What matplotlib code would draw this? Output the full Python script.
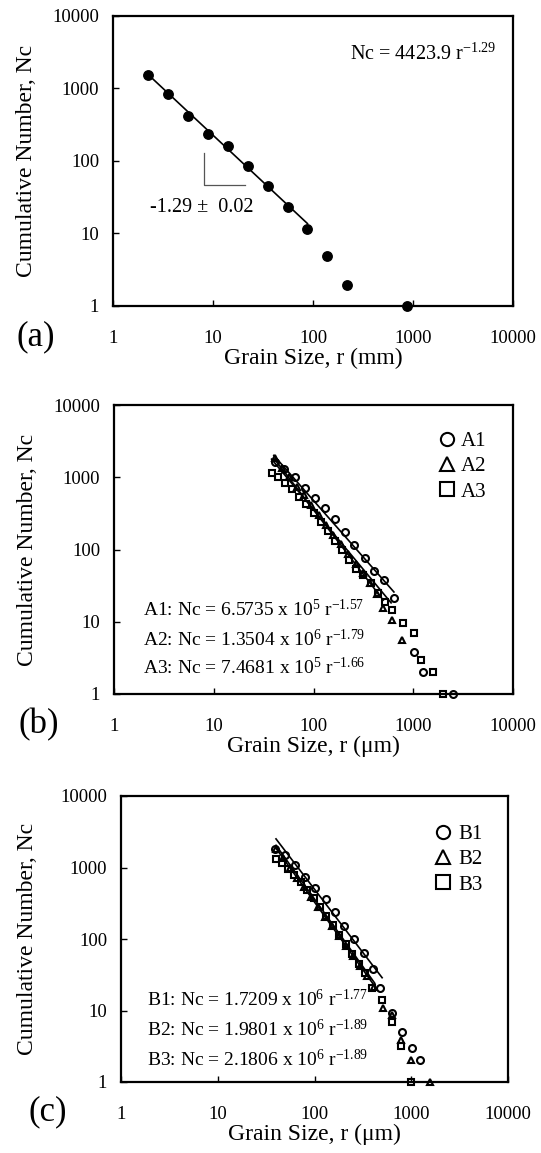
import numpy as np
import matplotlib
matplotlib.use('Agg')
import matplotlib.pyplot as plt

plt.rcParams['font.family'] = ['Liberation Serif', 'DejaVu Serif']
plt.rcParams['mathtext.fontset'] = 'custom'
plt.rcParams['mathtext.rm'] = 'Liberation Serif'
plt.rcParams['mathtext.it'] = 'Liberation Serif:italic'

# panel (a): gravel, mm
a_r = [2.26, 3.57, 5.67, 8.98, 14.2, 22.4, 35.5, 56.2, 87.8, 139, 220, 877]
a_n = [1528, 835, 419, 239, 160, 84, 45, 23.4, 11.7, 4.86, 1.95, 1]
a_fit = (4423.9, -1.29, 2.3, 88)

# panel (b): A samples, um
A1_r = [40.8, 51, 65, 82, 103, 130, 164, 207, 257, 326, 405, 510, 644, 1007, 1262, 2530]
A1_n = [1633, 1291, 1021, 711, 522, 379, 261, 176, 115, 77, 50, 37.5, 21.3, 3.8, 2, 1]
A2_r = [41, 48, 57, 68, 80, 95, 113, 134, 158, 188, 222, 264, 312, 370, 438, 497, 616, 777]
A2_n = [1850, 1330, 1000, 740, 560, 410, 300, 220, 160, 118, 88, 64, 47, 34, 24, 15.5, 10.7, 5.6]
A3_r = [38, 44, 52, 61, 72, 85, 100, 118, 139, 164, 193, 228, 268, 316, 373, 440, 519, 616, 788, 1025, 1203, 1585, 2000]
A3_n = [1140, 1000, 830, 680, 540, 420, 320, 240, 180, 130, 98, 72, 54, 45, 34, 25, 19, 14.7, 9.7, 7, 3, 2, 1]
A_fits = [(6.5735e5, -1.57, 40, 640), (1.3504e6, -1.79, 41, 500), (7.4681e5, -1.66, 38, 600)]
A_eqs = ['A1: Nc = 6.5735 x 10$^{5}$ r$^{-1.57}$',
         'A2: Nc = 1.3504 x 10$^{6}$ r$^{-1.79}$',
         'A3: Nc = 7.4681 x 10$^{5}$ r$^{-1.66}$']

# panel (c): B samples, um
B1_r = [38.6, 49.7, 63.6, 80.7, 102, 130, 161, 201, 253, 321, 401, 475, 628, 796, 1011, 1230]
B1_n = [1841, 1486, 1078, 741, 525, 357, 240, 153, 99, 64.5, 37.7, 20.4, 9.1, 5.06, 3, 2]
B2_r = [40, 47, 56, 66, 78, 92, 109, 129, 152, 180, 213, 252, 298, 352, 416, 509, 630, 780, 990, 1549]
B2_n = [1800, 1350, 990, 720, 530, 385, 280, 205, 150, 110, 80, 58, 42, 30, 21, 11, 8.7, 3.9, 2, 1]
B3_r = [40, 46, 53, 62, 72, 84, 98, 114, 133, 155, 180, 210, 245, 286, 333, 390, 495, 640, 780, 990]
B3_n = [1300, 1150, 960, 780, 620, 480, 370, 280, 210, 155, 115, 85, 62, 45, 33, 20.4, 14, 6.8, 3.2, 1]
B_fits = [(1.7209e6, -1.77, 40, 500), (1.9801e6, -1.89, 40, 420), (2.1806e6, -1.89, 40, 420)]
B_eqs = ['B1: Nc = 1.7209 x 10$^{6}$ r$^{-1.77}$',
         'B2: Nc = 1.9801 x 10$^{6}$ r$^{-1.89}$',
         'B3: Nc = 2.1806 x 10$^{6}$ r$^{-1.89}$']

decades = [1, 10, 100, 1000, 10000]
dec_labels = ['1', '10', '100', '1000', '10000']

fig = plt.figure(figsize=(5.41, 11.53), dpi=100)
W, H = 541, 1153

def add_ax(x0, x1, y0, y1):
    return fig.add_axes([x0 / W, 1 - y1 / H, (x1 - x0) / W, (y1 - y0) / H])

ax1 = add_ax(113, 513, 16, 306)
ax2 = add_ax(114, 513, 405, 694)
ax3 = add_ax(121, 508, 796, 1082)

def style(ax, xlabel, tag):
    ax.set_xscale('log')
    ax.set_yscale('log')
    ax.set_xlim(1, 10000)
    ax.set_ylim(1, 10000)
    ax.set_xticks(decades)
    ax.set_xticklabels(dec_labels)
    ax.set_yticks(decades)
    ax.set_yticklabels(dec_labels)
    ax.minorticks_off()
    ax.tick_params(axis='both', direction='in', length=4, width=1, labelsize=13.5)
    ax.tick_params(axis='x', pad=17)
    ax.tick_params(axis='y', pad=10)
    for sp in ax.spines.values():
        sp.set_linewidth(1.6)
    ax.set_xlabel(xlabel, fontsize=17, labelpad=1)
    ax.set_ylabel('Cumulative Number, Nc', fontsize=17)
    ax.text(-0.24, -0.105, tag, transform=ax.transAxes, fontsize=25, ha='left', va='center')

def fit_line(ax, c, m, r0, r1):
    rr = np.array([r0, r1])
    ax.plot(rr, c * rr ** m, color='k', lw=1.2, zorder=2)

# (a)
fit_line(ax1, *a_fit)
ax1.plot(a_r, a_n, 'o', color='k', ms=6.8, zorder=3, clip_on=False)
ax1.plot([8.13, 8.13, 21.1], [129, 46, 46], color='#555555', lw=0.9)
ax1.text(2.36, 23, '-1.29 \u00b1  0.02', fontsize=14.5, va='center', ha='left')
ax1.text(0.593, 0.867, 'Nc = 4423.9 r$^{-1.29}$', transform=ax1.transAxes, fontsize=14.5, va='center')
style(ax1, 'Grain Size, r (mm)', '(a)')
ax1.yaxis.set_label_coords(-0.19, 0.5)

# (b) and (c)
marks = ['o', '^', 's']
panels = [
    (ax2, [A1_r, A2_r, A3_r], [A1_n, A2_n, A3_n], A_fits, A_eqs, ['A1', 'A2', 'A3'],
     0.073, [0.291, 0.187, 0.09], 0.938),
    (ax3, [B1_r, B2_r, B3_r], [B1_n, B2_n, B3_n], B_fits, B_eqs, ['B1', 'B2', 'B3'],
     0.067, [0.287, 0.182, 0.077], 0.93),
]
for ax, rs, ns, fits, eqs, names, ex, eys, ly in panels:
    for f in fits:
        fit_line(ax, *f)
    for r, n, mk, nm in zip(rs, ns, marks, names):
        ax.plot(r, n, mk, mfc='none', mec='k', mew=1.5, ms=5, label=nm, zorder=3, clip_on=False)
    for eq, ey in zip(eqs, eys):
        ax.text(ex, ey, eq, transform=ax.transAxes, fontsize=14, va='center', zorder=5)
    ax.legend(loc='upper right', bbox_to_anchor=(0.955, ly), frameon=False, fontsize=15,
              markerscale=1.9, handlelength=0.8, handletextpad=0.3, labelspacing=0.28,
              borderaxespad=0)

style(ax2, 'Grain Size, r (\u03bcm)', '(b)')
style(ax3, 'Grain Size, r (\u03bcm)', '(c)')
ax2.yaxis.set_label_coords(-0.19, 0.5)
ax3.yaxis.set_label_coords(-0.215, 0.5)

plt.savefig('out.png', dpi=100)
